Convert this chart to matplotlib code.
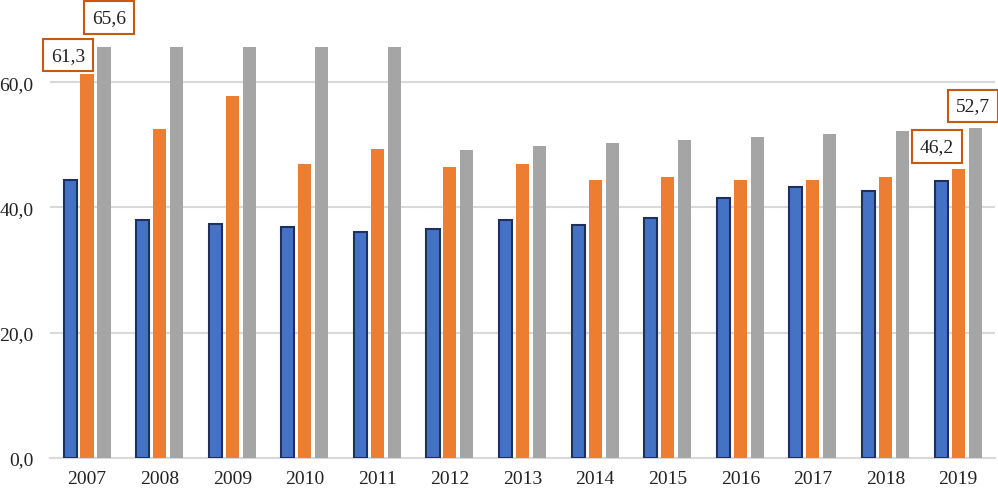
import numpy as np
import matplotlib
matplotlib.use("Agg")
import matplotlib.pyplot as plt

years = ["2007", "2008", "2009", "2010", "2011", "2012", "2013",
         "2014", "2015", "2016", "2017", "2018", "2019"]
blue_vals = [44.4, 38.0, 37.3, 36.9, 36.1, 36.6, 38.0, 37.2, 38.3, 41.5, 43.2, 42.6, 44.2]
orange_vals = [61.3, 52.6, 57.8, 46.9, 49.4, 46.4, 47.0, 44.3, 44.8, 44.3, 44.3, 44.8, 46.2]
gray_vals = [65.6, 65.6, 65.6, 65.6, 65.6, 49.2, 49.8, 50.3, 50.8, 51.3, 51.8, 52.2, 52.7]
y_ticks = [0, 20, 40, 60]

plt.rcParams['font.family'] = ['Liberation Serif', 'DejaVu Serif']

fig = plt.figure(figsize=(9.98, 4.89), dpi=100)
ax = fig.add_axes([0.0501, 0.062, 0.947, 0.8445])

x = np.arange(len(years))
step = 0.234
width = 0.18

ax.bar(x - step, blue_vals, width, color="#4472C4", edgecolor="#1F2F5F", linewidth=1.5, zorder=3)
ax.bar(x, orange_vals, width, color="#ED7D31", zorder=3)
ax.bar(x + step, gray_vals, width, color="#A5A5A5", zorder=3)

ax.set_xlim(-0.51, len(years) - 0.49)
ax.set_ylim(0, 66.0)
ax.set_yticks(y_ticks)
ax.set_yticklabels([f"{v:.1f}".replace(".", ",") for v in y_ticks])
ax.set_xticks(x)
ax.set_xticklabels(years)
ax.tick_params(axis="both", length=0, labelsize=14, colors="#222222")
ax.tick_params(axis="y", pad=12)
ax.tick_params(axis="x", pad=9)

ax.yaxis.grid(True, color="#d9d9d9", linewidth=1.5, zorder=0)
ax.set_axisbelow(True)
for s in ["top", "right", "left"]:
    ax.spines[s].set_visible(False)
ax.spines["bottom"].set_color("#d9d9d9")
ax.spines["bottom"].set_linewidth(1.5)

# boxed value labels
box = dict(boxstyle="square,pad=0.4", facecolor="white", edgecolor="#C55A11", linewidth=1.5)
labels = [
    (x[0], orange_vals[0], (-19, 19)),
    (x[0] + step, gray_vals[0], (5, 30)),
    (x[-1], orange_vals[-1], (-21, 22)),
    (x[-1] + step, gray_vals[-1], (-2, 22)),
]
for lx, ly, off in labels:
    ax.annotate(f"{ly:.1f}".replace(".", ","), xy=(lx, ly), xytext=off,
                textcoords="offset pixels", ha="center", va="center",
                fontsize=14, color="#222222", bbox=box, annotation_clip=False, zorder=5)

fig.savefig("out.png", dpi=100)
